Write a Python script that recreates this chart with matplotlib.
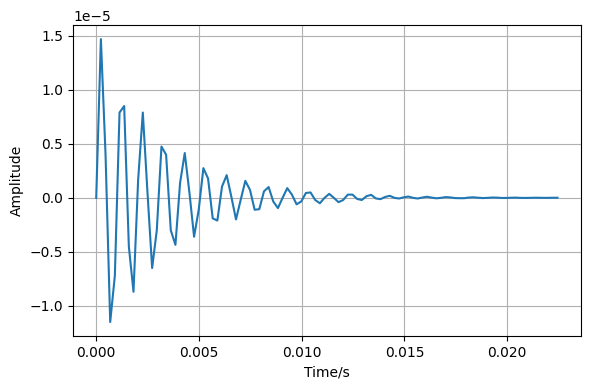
import numpy as np
import matplotlib
matplotlib.use("Agg")
import matplotlib.pyplot as plt

sample_rate = 4410
amplitude_e5 = [
    0.0, 1.47, 0.40, -1.15, -0.72, 0.79, 0.85, -0.45, -0.87, 0.17,
    0.79, 0.05, -0.65, -0.30, 0.475, 0.40, -0.30, -0.435, 0.14, 0.415,
    0.05, -0.36, -0.11, 0.275, 0.18, -0.19, -0.21, 0.105, 0.21, 0.01,
    -0.20, -0.02, 0.157, 0.074, -0.11, -0.105, 0.06, 0.10, -0.034, -0.095,
    0.0, 0.09, 0.03, -0.06, -0.034, 0.045, 0.05, -0.02, -0.05, 0.0,
    0.037, 0.0, -0.04, -0.02, 0.03, 0.03, -0.01, -0.02, 0.015, 0.028,
    -0.005, -0.012, 0.008, 0.019, 0.0, -0.006, 0.005, 0.012, 0.0, -0.006,
    0.003, 0.01, 0.002, -0.004, 0.0, 0.007, 0.004, -0.002, -0.003, -0.003,
    0.003, 0.005, 0.001, -0.002, 0.0, 0.003, 0.002, -0.001, -0.001, 0.001,
    0.002, 0.0, -0.001, 0.0, 0.001, 0.001, 0.0, 0.0, 0.001, 0.001,
]

amp = np.array(amplitude_e5) * 1e-5
t = np.arange(len(amp)) / sample_rate

fig, ax = plt.subplots(figsize=(5.9, 3.9), dpi=100)
ax.plot(t, amp, color="#1f77b4", linewidth=1.5)
ax.set_xlabel("Time/s")
ax.set_ylabel("Amplitude")
ax.grid(True)
fig.subplots_adjust(left=0.124, right=0.984, top=0.936, bottom=0.138)
fig.savefig("out.png", dpi=100)
